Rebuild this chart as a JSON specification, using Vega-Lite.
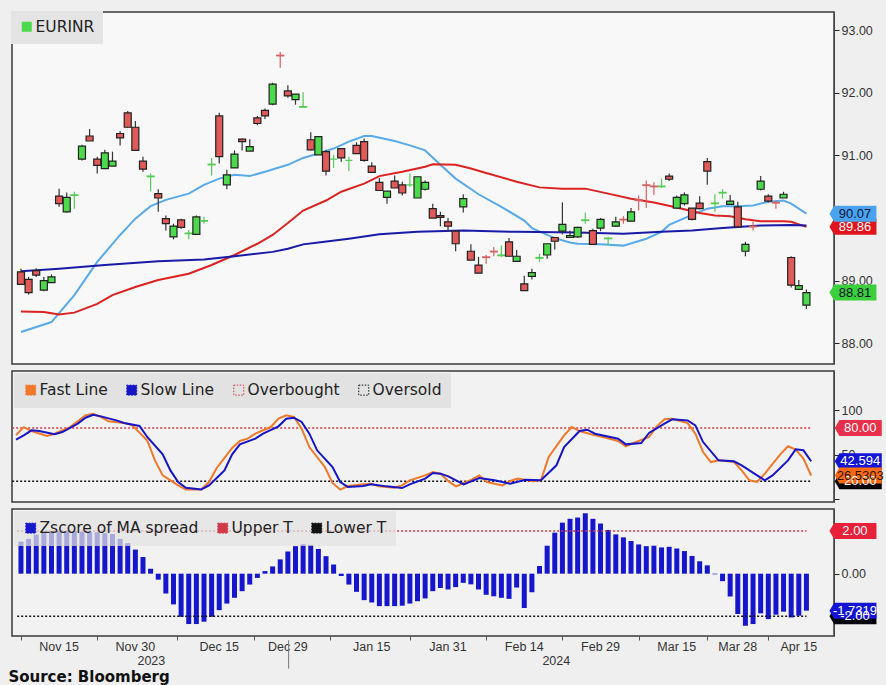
{
  "$schema": "https://vega.github.io/schema/vega-lite/v6.json",
  "background": "#efefef",
  "padding": {"left": 8, "top": 10, "right": 6, "bottom": 0},
  "bounds": "flush",
  "title": {"text": "Source: Bloomberg", "orient": "bottom", "anchor": "start", "font": "DejaVu Sans", "fontSize": 15, "fontWeight": "bold", "color": "#111111", "offset": 0},
  "resolve": {"scale": {"color": "independent", "fill": "independent", "stroke": "independent", "x": "independent", "y": "independent"}, "legend": {"color": "independent"}},
  "config": {
    "view": {"stroke": "#3a3a3a", "strokeWidth": 1.5},
    "concat": {"spacing": 7},
    "axis": {"labelFont": "Liberation Sans Narrow, Liberation Sans", "labelFontSize": 12.5, "labelColor": "#333333", "domainColor": "#444444", "tickColor": "#222222", "grid": false, "title": null}
  },
  "datasets": {
    "candles": [
      {"i":0,"d":"2023-11-07","o":89.14,"h":89.19,"l":88.93,"c":88.94},
      {"i":1,"d":"2023-11-08","o":89.02,"h":89.06,"l":88.78,"c":88.81},
      {"i":2,"d":"2023-11-09","o":89.16,"h":89.20,"l":89.06,"c":89.09},
      {"i":3,"d":"2023-11-10","o":88.85,"h":89.06,"l":88.83,"c":89.00},
      {"i":4,"d":"2023-11-13","o":88.97,"h":89.10,"l":88.97,"c":89.06},
      {"i":5,"d":"2023-11-15","o":90.35,"h":90.47,"l":90.18,"c":90.23},
      {"i":6,"d":"2023-11-16","o":90.10,"h":90.41,"l":90.09,"c":90.33},
      {"i":7,"d":"2023-11-17","o":90.36,"h":90.42,"l":90.15,"c":90.37},
      {"i":8,"d":"2023-11-20","o":90.94,"h":91.17,"l":90.92,"c":91.15},
      {"i":9,"d":"2023-11-21","o":91.31,"h":91.42,"l":91.23,"c":91.23},
      {"i":10,"d":"2023-11-22","o":90.94,"h":90.98,"l":90.71,"c":90.84},
      {"i":11,"d":"2023-11-23","o":90.79,"h":91.09,"l":90.79,"c":91.04},
      {"i":12,"d":"2023-11-24","o":90.83,"h":91.06,"l":90.83,"c":90.91},
      {"i":13,"d":"2023-11-28","o":91.35,"h":91.39,"l":91.16,"c":91.28},
      {"i":14,"d":"2023-11-29","o":91.68,"h":91.71,"l":91.44,"c":91.45},
      {"i":15,"d":"2023-11-30","o":91.45,"h":91.55,"l":91.07,"c":91.08},
      {"i":16,"d":"2023-12-01","o":90.91,"h":90.98,"l":90.74,"c":90.78},
      {"i":17,"d":"2023-12-04","o":90.66,"h":90.71,"l":90.43,"c":90.67},
      {"i":18,"d":"2023-12-05","o":90.39,"h":90.46,"l":90.10,"c":90.32},
      {"i":19,"d":"2023-12-06","o":89.99,"h":90.04,"l":89.80,"c":89.91},
      {"i":20,"d":"2023-12-07","o":89.70,"h":89.91,"l":89.66,"c":89.87},
      {"i":21,"d":"2023-12-08","o":89.97,"h":89.99,"l":89.83,"c":89.85},
      {"i":22,"d":"2023-12-11","o":89.75,"h":89.81,"l":89.66,"c":89.76},
      {"i":23,"d":"2023-12-12","o":89.74,"h":90.04,"l":89.74,"c":90.02},
      {"i":24,"d":"2023-12-13","o":89.95,"h":90.02,"l":89.91,"c":89.96},
      {"i":25,"d":"2023-12-14","o":90.85,"h":90.96,"l":90.68,"c":90.86},
      {"i":26,"d":"2023-12-15","o":91.63,"h":91.68,"l":90.87,"c":90.98},
      {"i":27,"d":"2023-12-18","o":90.53,"h":90.77,"l":90.46,"c":90.69},
      {"i":28,"d":"2023-12-19","o":90.80,"h":91.08,"l":90.80,"c":91.02},
      {"i":29,"d":"2023-12-20","o":91.26,"h":91.27,"l":91.08,"c":91.22},
      {"i":30,"d":"2023-12-21","o":91.07,"h":91.26,"l":91.07,"c":91.14},
      {"i":31,"d":"2023-12-22","o":91.60,"h":91.63,"l":91.48,"c":91.51},
      {"i":32,"d":"2023-12-26","o":91.72,"h":91.75,"l":91.58,"c":91.63},
      {"i":33,"d":"2023-12-27","o":91.82,"h":92.16,"l":91.80,"c":92.14},
      {"i":34,"d":"2023-12-28","o":92.60,"h":92.65,"l":92.40,"c":92.59},
      {"i":35,"d":"2023-12-29","o":92.03,"h":92.12,"l":91.92,"c":91.95},
      {"i":36,"d":"2024-01-01","o":91.89,"h":91.98,"l":91.81,"c":91.98},
      {"i":37,"d":"2024-01-02","o":91.77,"h":92.01,"l":91.77,"c":91.78},
      {"i":38,"d":"2024-01-03","o":91.25,"h":91.37,"l":91.08,"c":91.09},
      {"i":39,"d":"2024-01-04","o":91.01,"h":91.30,"l":91.01,"c":91.30},
      {"i":40,"d":"2024-01-05","o":91.06,"h":91.09,"l":90.68,"c":90.75},
      {"i":41,"d":"2024-01-08","o":90.94,"h":91.01,"l":90.80,"c":90.94},
      {"i":42,"d":"2024-01-09","o":91.11,"h":91.12,"l":90.90,"c":90.96},
      {"i":43,"d":"2024-01-10","o":90.92,"h":90.98,"l":90.75,"c":90.92},
      {"i":44,"d":"2024-01-11","o":91.16,"h":91.21,"l":91.03,"c":91.03},
      {"i":45,"d":"2024-01-12","o":91.22,"h":91.27,"l":90.90,"c":90.92},
      {"i":46,"d":"2024-01-15","o":90.83,"h":90.89,"l":90.73,"c":90.73},
      {"i":47,"d":"2024-01-16","o":90.57,"h":90.64,"l":90.44,"c":90.44},
      {"i":48,"d":"2024-01-17","o":90.33,"h":90.43,"l":90.23,"c":90.43},
      {"i":49,"d":"2024-01-18","o":90.59,"h":90.68,"l":90.48,"c":90.48},
      {"i":50,"d":"2024-01-19","o":90.53,"h":90.58,"l":90.36,"c":90.40},
      {"i":51,"d":"2024-01-23","o":90.53,"h":90.71,"l":90.50,"c":90.53},
      {"i":52,"d":"2024-01-24","o":90.32,"h":90.66,"l":90.32,"c":90.66},
      {"i":53,"d":"2024-01-25","o":90.46,"h":90.60,"l":90.44,"c":90.57},
      {"i":54,"d":"2024-01-29","o":90.15,"h":90.23,"l":90.00,"c":90.00},
      {"i":55,"d":"2024-01-30","o":90.04,"h":90.10,"l":89.87,"c":90.01},
      {"i":56,"d":"2024-01-31","o":89.94,"h":90.00,"l":89.78,"c":89.87},
      {"i":57,"d":"2024-02-01","o":89.79,"h":89.79,"l":89.47,"c":89.59},
      {"i":58,"d":"2024-02-02","o":90.18,"h":90.38,"l":90.09,"c":90.31},
      {"i":59,"d":"2024-02-05","o":89.47,"h":89.58,"l":89.33,"c":89.33},
      {"i":60,"d":"2024-02-06","o":89.25,"h":89.38,"l":89.12,"c":89.12},
      {"i":61,"d":"2024-02-07","o":89.38,"h":89.41,"l":89.27,"c":89.37},
      {"i":62,"d":"2024-02-08","o":89.47,"h":89.54,"l":89.39,"c":89.46},
      {"i":63,"d":"2024-02-09","o":89.40,"h":89.56,"l":89.38,"c":89.41},
      {"i":64,"d":"2024-02-12","o":89.62,"h":89.68,"l":89.39,"c":89.39},
      {"i":65,"d":"2024-02-13","o":89.31,"h":89.49,"l":89.31,"c":89.39},
      {"i":66,"d":"2024-02-14","o":88.95,"h":89.08,"l":88.84,"c":88.84},
      {"i":67,"d":"2024-02-15","o":89.07,"h":89.19,"l":89.02,"c":89.13},
      {"i":68,"d":"2024-02-16","o":89.36,"h":89.43,"l":89.30,"c":89.37},
      {"i":69,"d":"2024-02-20","o":89.41,"h":89.59,"l":89.35,"c":89.59},
      {"i":70,"d":"2024-02-21","o":89.69,"h":89.69,"l":89.50,"c":89.63},
      {"i":71,"d":"2024-02-22","o":89.79,"h":90.25,"l":89.74,"c":89.90},
      {"i":72,"d":"2024-02-23","o":89.69,"h":89.80,"l":89.69,"c":89.72},
      {"i":73,"d":"2024-02-26","o":89.70,"h":89.86,"l":89.68,"c":89.85},
      {"i":74,"d":"2024-02-27","o":89.96,"h":90.09,"l":89.91,"c":89.97},
      {"i":75,"d":"2024-02-28","o":89.80,"h":89.83,"l":89.58,"c":89.58},
      {"i":76,"d":"2024-02-29","o":89.84,"h":90.00,"l":89.79,"c":89.98},
      {"i":77,"d":"2024-03-01","o":89.67,"h":89.70,"l":89.57,"c":89.68},
      {"i":78,"d":"2024-03-04","o":89.87,"h":90.02,"l":89.86,"c":89.94},
      {"i":79,"d":"2024-03-05","o":89.98,"h":90.03,"l":89.91,"c":89.97},
      {"i":80,"d":"2024-03-06","o":89.95,"h":90.16,"l":89.94,"c":90.10},
      {"i":81,"d":"2024-03-07","o":90.29,"h":90.36,"l":90.12,"c":90.28},
      {"i":82,"d":"2024-03-11","o":90.53,"h":90.60,"l":90.16,"c":90.52},
      {"i":83,"d":"2024-03-12","o":90.51,"h":90.57,"l":90.37,"c":90.50},
      {"i":84,"d":"2024-03-13","o":90.50,"h":90.63,"l":90.48,"c":90.51},
      {"i":85,"d":"2024-03-14","o":90.67,"h":90.71,"l":90.59,"c":90.62},
      {"i":86,"d":"2024-03-15","o":90.16,"h":90.36,"l":90.16,"c":90.33},
      {"i":87,"d":"2024-03-18","o":90.23,"h":90.41,"l":90.20,"c":90.37},
      {"i":88,"d":"2024-03-19","o":90.16,"h":90.16,"l":89.96,"c":89.98},
      {"i":89,"d":"2024-03-20","o":90.24,"h":90.35,"l":90.14,"c":90.15},
      {"i":90,"d":"2024-03-21","o":90.90,"h":90.96,"l":90.53,"c":90.75},
      {"i":91,"d":"2024-03-22","o":90.23,"h":90.38,"l":90.10,"c":90.24},
      {"i":92,"d":"2024-03-26","o":90.40,"h":90.46,"l":90.31,"c":90.41},
      {"i":93,"d":"2024-03-27","o":90.22,"h":90.37,"l":90.22,"c":90.27},
      {"i":94,"d":"2024-03-28","o":90.18,"h":90.26,"l":89.86,"c":89.86},
      {"i":95,"d":"2024-04-02","o":89.47,"h":89.62,"l":89.39,"c":89.58},
      {"i":96,"d":"2024-04-03","o":89.87,"h":89.94,"l":89.80,"c":89.86},
      {"i":97,"d":"2024-04-04","o":90.46,"h":90.67,"l":90.44,"c":90.59},
      {"i":98,"d":"2024-04-05","o":90.35,"h":90.38,"l":90.25,"c":90.27},
      {"i":99,"d":"2024-04-08","o":90.25,"h":90.28,"l":90.15,"c":90.24},
      {"i":100,"d":"2024-04-10","o":90.32,"h":90.42,"l":90.32,"c":90.38},
      {"i":101,"d":"2024-04-12","o":89.37,"h":89.39,"l":88.89,"c":88.93},
      {"i":102,"d":"2024-04-15","o":88.86,"h":89.01,"l":88.86,"c":88.92},
      {"i":103,"d":"2024-04-16","o":88.61,"h":88.86,"l":88.55,"c":88.81}
    ],
    "ma": [
      {"i":0,"s":"fast","v":88.18},{"i":4,"s":"fast","v":88.34},{"i":7,"s":"fast","v":88.77},{"i":10,"s":"fast","v":89.30},{"i":13,"s":"fast","v":89.73},{"i":15,"s":"fast","v":89.99},{"i":17,"s":"fast","v":90.19},{"i":19,"s":"fast","v":90.29},{"i":22,"s":"fast","v":90.39},{"i":24,"s":"fast","v":90.53},{"i":26,"s":"fast","v":90.63},{"i":28,"s":"fast","v":90.69},{"i":30,"s":"fast","v":90.67},{"i":32,"s":"fast","v":90.74},{"i":35,"s":"fast","v":90.85},{"i":37,"s":"fast","v":90.96},{"i":39,"s":"fast","v":91.03},{"i":41,"s":"fast","v":91.11},{"i":43,"s":"fast","v":91.22},{"i":45,"s":"fast","v":91.31},{"i":46,"s":"fast","v":91.31},{"i":49,"s":"fast","v":91.23},{"i":51,"s":"fast","v":91.16},{"i":53,"s":"fast","v":91.08},{"i":55,"s":"fast","v":90.85},{"i":57,"s":"fast","v":90.63},{"i":60,"s":"fast","v":90.38},{"i":63,"s":"fast","v":90.18},{"i":66,"s":"fast","v":89.96},{"i":67,"s":"fast","v":89.84},{"i":70,"s":"fast","v":89.68},{"i":72,"s":"fast","v":89.61},{"i":73,"s":"fast","v":89.59},{"i":76,"s":"fast","v":89.58},{"i":79,"s":"fast","v":89.56},{"i":82,"s":"fast","v":89.67},{"i":84,"s":"fast","v":89.78},{"i":85,"s":"fast","v":89.89},{"i":88,"s":"fast","v":90.05},{"i":90,"s":"fast","v":90.15},{"i":92,"s":"fast","v":90.19},{"i":94,"s":"fast","v":90.19},{"i":96,"s":"fast","v":90.20},{"i":98,"s":"fast","v":90.26},{"i":100,"s":"fast","v":90.28},{"i":101,"s":"fast","v":90.23},{"i":103,"s":"fast","v":90.07},
      {"i":0,"s":"mid","v":88.51},{"i":3,"s":"mid","v":88.50},{"i":5,"s":"mid","v":88.46},{"i":7,"s":"mid","v":88.49},{"i":10,"s":"mid","v":88.63},{"i":12,"s":"mid","v":88.77},{"i":15,"s":"mid","v":88.90},{"i":18,"s":"mid","v":89.01},{"i":22,"s":"mid","v":89.11},{"i":25,"s":"mid","v":89.25},{"i":28,"s":"mid","v":89.41},{"i":31,"s":"mid","v":89.59},{"i":33,"s":"mid","v":89.73},{"i":35,"s":"mid","v":89.92},{"i":37,"s":"mid","v":90.12},{"i":40,"s":"mid","v":90.28},{"i":42,"s":"mid","v":90.42},{"i":45,"s":"mid","v":90.55},{"i":47,"s":"mid","v":90.67},{"i":50,"s":"mid","v":90.74},{"i":53,"s":"mid","v":90.82},{"i":54,"s":"mid","v":90.86},{"i":57,"s":"mid","v":90.85},{"i":59,"s":"mid","v":90.79},{"i":61,"s":"mid","v":90.72},{"i":65,"s":"mid","v":90.58},{"i":68,"s":"mid","v":90.49},{"i":71,"s":"mid","v":90.47},{"i":74,"s":"mid","v":90.47},{"i":77,"s":"mid","v":90.39},{"i":80,"s":"mid","v":90.31},{"i":83,"s":"mid","v":90.25},{"i":86,"s":"mid","v":90.17},{"i":89,"s":"mid","v":90.08},{"i":91,"s":"mid","v":90.04},{"i":93,"s":"mid","v":90.03},{"i":95,"s":"mid","v":89.98},{"i":97,"s":"mid","v":89.95},{"i":100,"s":"mid","v":89.95},{"i":101,"s":"mid","v":89.94},{"i":103,"s":"mid","v":89.86},
      {"i":0,"s":"slow","v":89.15},{"i":5,"s":"slow","v":89.19},{"i":11,"s":"slow","v":89.25},{"i":18,"s":"slow","v":89.31},{"i":24,"s":"slow","v":89.34},{"i":28,"s":"slow","v":89.39},{"i":33,"s":"slow","v":89.46},{"i":35,"s":"slow","v":89.51},{"i":37,"s":"slow","v":89.58},{"i":39,"s":"slow","v":89.61},{"i":43,"s":"slow","v":89.67},{"i":47,"s":"slow","v":89.74},{"i":52,"s":"slow","v":89.78},{"i":58,"s":"slow","v":89.80},{"i":65,"s":"slow","v":89.78},{"i":73,"s":"slow","v":89.77},{"i":79,"s":"slow","v":89.75},{"i":84,"s":"slow","v":89.78},{"i":88,"s":"slow","v":89.80},{"i":92,"s":"slow","v":89.84},{"i":97,"s":"slow","v":89.88},{"i":101,"s":"slow","v":89.89},{"i":103,"s":"slow","v":89.88}
    ],
    "stoch": [
      {"i":0,"s":"Fast Line","v":72},{"i":1,"s":"Fast Line","v":81},{"i":2,"s":"Fast Line","v":76.6},{"i":4,"s":"Fast Line","v":71},{"i":5,"s":"Fast Line","v":73.5},{"i":7,"s":"Fast Line","v":81},{"i":9,"s":"Fast Line","v":94.3},{"i":10,"s":"Fast Line","v":96},{"i":11,"s":"Fast Line","v":92.4},{"i":12,"s":"Fast Line","v":87.5},{"i":14,"s":"Fast Line","v":85.6},{"i":15,"s":"Fast Line","v":83.5},{"i":17,"s":"Fast Line","v":66},{"i":18,"s":"Fast Line","v":43.6},{"i":19,"s":"Fast Line","v":26.7},{"i":21,"s":"Fast Line","v":15.4},{"i":22,"s":"Fast Line","v":10.9},{"i":24,"s":"Fast Line","v":10.9},{"i":25,"s":"Fast Line","v":19.2},{"i":26,"s":"Fast Line","v":35},{"i":28,"s":"Fast Line","v":57.5},{"i":29,"s":"Fast Line","v":65.4},{"i":30,"s":"Fast Line","v":68},{"i":31,"s":"Fast Line","v":73.6},{"i":33,"s":"Fast Line","v":81.1},{"i":34,"s":"Fast Line","v":90.5},{"i":35,"s":"Fast Line","v":94.3},{"i":36,"s":"Fast Line","v":92.4},{"i":37,"s":"Fast Line","v":79.3},{"i":38,"s":"Fast Line","v":58.6},{"i":40,"s":"Fast Line","v":36.1},{"i":41,"s":"Fast Line","v":18.1},{"i":42,"s":"Fast Line","v":10.6},{"i":43,"s":"Fast Line","v":14.7},{"i":45,"s":"Fast Line","v":16.6},{"i":46,"s":"Fast Line","v":17.3},{"i":47,"s":"Fast Line","v":14.3},{"i":49,"s":"Fast Line","v":12.8},{"i":50,"s":"Fast Line","v":15.4},{"i":51,"s":"Fast Line","v":21.1},{"i":53,"s":"Fast Line","v":26.7},{"i":54,"s":"Fast Line","v":30.5},{"i":55,"s":"Fast Line","v":28.6},{"i":56,"s":"Fast Line","v":20},{"i":57,"s":"Fast Line","v":14.3},{"i":59,"s":"Fast Line","v":21.8},{"i":60,"s":"Fast Line","v":26.7},{"i":61,"s":"Fast Line","v":19.2},{"i":63,"s":"Fast Line","v":15.4},{"i":64,"s":"Fast Line","v":20.3},{"i":65,"s":"Fast Line","v":23},{"i":67,"s":"Fast Line","v":20},{"i":68,"s":"Fast Line","v":21.1},{"i":69,"s":"Fast Line","v":47.4},{"i":71,"s":"Fast Line","v":71.7},{"i":72,"s":"Fast Line","v":81.1},{"i":73,"s":"Fast Line","v":76.6},{"i":75,"s":"Fast Line","v":71.7},{"i":76,"s":"Fast Line","v":69.9},{"i":78,"s":"Fast Line","v":65.4},{"i":79,"s":"Fast Line","v":59.4},{"i":80,"s":"Fast Line","v":63.1},{"i":82,"s":"Fast Line","v":69.9},{"i":83,"s":"Fast Line","v":81.9},{"i":84,"s":"Fast Line","v":89.8},{"i":85,"s":"Fast Line","v":90.5},{"i":87,"s":"Fast Line","v":85.6},{"i":88,"s":"Fast Line","v":73.6},{"i":89,"s":"Fast Line","v":53},{"i":90,"s":"Fast Line","v":41.7},{"i":91,"s":"Fast Line","v":43.6},{"i":93,"s":"Fast Line","v":41.7},{"i":94,"s":"Fast Line","v":32.3},{"i":95,"s":"Fast Line","v":21.1},{"i":96,"s":"Fast Line","v":19.2},{"i":97,"s":"Fast Line","v":28.6},{"i":99,"s":"Fast Line","v":50.4},{"i":100,"s":"Fast Line","v":59.4},{"i":101,"s":"Fast Line","v":55.6},{"i":102,"s":"Fast Line","v":45.5},{"i":103,"s":"Fast Line","v":26.53},
      {"i":0,"s":"Slow Line","v":67},{"i":1,"s":"Slow Line","v":71.7},{"i":2,"s":"Slow Line","v":77.4},{"i":3,"s":"Slow Line","v":76.6},{"i":5,"s":"Slow Line","v":72.9},{"i":6,"s":"Slow Line","v":75.5},{"i":8,"s":"Slow Line","v":84.9},{"i":9,"s":"Slow Line","v":91.6},{"i":10,"s":"Slow Line","v":95},{"i":11,"s":"Slow Line","v":93.1},{"i":13,"s":"Slow Line","v":88.6},{"i":14,"s":"Slow Line","v":85.6},{"i":16,"s":"Slow Line","v":82.3},{"i":17,"s":"Slow Line","v":69.9},{"i":19,"s":"Slow Line","v":50.4},{"i":20,"s":"Slow Line","v":32.3},{"i":21,"s":"Slow Line","v":19.2},{"i":22,"s":"Slow Line","v":12.8},{"i":24,"s":"Slow Line","v":10.9},{"i":25,"s":"Slow Line","v":15.4},{"i":27,"s":"Slow Line","v":32.3},{"i":28,"s":"Slow Line","v":50.4},{"i":29,"s":"Slow Line","v":61.6},{"i":31,"s":"Slow Line","v":68},{"i":32,"s":"Slow Line","v":73.6},{"i":34,"s":"Slow Line","v":81.9},{"i":35,"s":"Slow Line","v":90.5},{"i":36,"s":"Slow Line","v":91.6},{"i":37,"s":"Slow Line","v":86.8},{"i":38,"s":"Slow Line","v":73.6},{"i":39,"s":"Slow Line","v":54.9},{"i":41,"s":"Slow Line","v":36.1},{"i":42,"s":"Slow Line","v":19.2},{"i":43,"s":"Slow Line","v":13.6},{"i":45,"s":"Slow Line","v":14.7},{"i":46,"s":"Slow Line","v":16.6},{"i":48,"s":"Slow Line","v":14.3},{"i":50,"s":"Slow Line","v":12.4},{"i":51,"s":"Slow Line","v":16.6},{"i":53,"s":"Slow Line","v":23},{"i":54,"s":"Slow Line","v":29.3},{"i":55,"s":"Slow Line","v":28.6},{"i":56,"s":"Slow Line","v":25.6},{"i":58,"s":"Slow Line","v":16.6},{"i":60,"s":"Slow Line","v":23.7},{"i":62,"s":"Slow Line","v":21.1},{"i":64,"s":"Slow Line","v":17.3},{"i":66,"s":"Slow Line","v":21.8},{"i":68,"s":"Slow Line","v":21.1},{"i":70,"s":"Slow Line","v":38},{"i":71,"s":"Slow Line","v":58.6},{"i":73,"s":"Slow Line","v":76.6},{"i":74,"s":"Slow Line","v":78.1},{"i":75,"s":"Slow Line","v":73.6},{"i":78,"s":"Slow Line","v":68},{"i":79,"s":"Slow Line","v":61.6},{"i":81,"s":"Slow Line","v":63.1},{"i":82,"s":"Slow Line","v":74.4},{"i":84,"s":"Slow Line","v":84.9},{"i":85,"s":"Slow Line","v":89.8},{"i":87,"s":"Slow Line","v":88.6},{"i":88,"s":"Slow Line","v":83},{"i":89,"s":"Slow Line","v":64.2},{"i":91,"s":"Slow Line","v":43.6},{"i":93,"s":"Slow Line","v":42.5},{"i":94,"s":"Slow Line","v":38},{"i":96,"s":"Slow Line","v":26.7},{"i":97,"s":"Slow Line","v":21.1},{"i":98,"s":"Slow Line","v":26.7},{"i":100,"s":"Slow Line","v":43.6},{"i":101,"s":"Slow Line","v":56},{"i":102,"s":"Slow Line","v":54.9},{"i":103,"s":"Slow Line","v":42.594}
    ],
    "stochLevels": [
      {"i":-0.5,"s":"Overbought","v":80},{"i":103,"s":"Overbought","v":80},
      {"i":-0.5,"s":"Oversold","v":20},{"i":103,"s":"Oversold","v":20}
    ],
    "z": [
      {"i":0,"v":1.5},{"i":1,"v":1.63},{"i":2,"v":1.83},{"i":3,"v":1.9},{"i":4,"v":1.97},{"i":5,"v":2.0},{"i":6,"v":2.0},{"i":7,"v":2.0},{"i":8,"v":1.97},{"i":9,"v":1.94},{"i":10,"v":1.94},{"i":11,"v":1.9},{"i":12,"v":1.86},{"i":13,"v":1.63},{"i":14,"v":1.43},{"i":15,"v":1.13},{"i":16,"v":0.78},{"i":17,"v":0.23},
      {"i":18,"v":-0.28},{"i":19,"v":-0.93},{"i":20,"v":-1.44},{"i":21,"v":-2.02},{"i":22,"v":-2.36},{"i":23,"v":-2.36},{"i":24,"v":-2.25},{"i":25,"v":-2.02},{"i":26,"v":-1.71},{"i":27,"v":-1.4},{"i":28,"v":-1.13},{"i":29,"v":-0.82},{"i":30,"v":-0.51},{"i":31,"v":-0.2},
      {"i":32,"v":0.12},{"i":33,"v":0.34},{"i":34,"v":0.67},{"i":35,"v":1.04},{"i":36,"v":1.29},{"i":37,"v":1.38},{"i":38,"v":1.35},{"i":39,"v":1.16},{"i":40,"v":0.82},{"i":41,"v":0.43},
      {"i":42,"v":-0.11},{"i":43,"v":-0.51},{"i":44,"v":-0.85},{"i":45,"v":-1.24},{"i":46,"v":-1.35},{"i":47,"v":-1.52},{"i":48,"v":-1.52},{"i":49,"v":-1.52},{"i":50,"v":-1.5},{"i":51,"v":-1.4},{"i":52,"v":-1.29},{"i":53,"v":-1.16},{"i":54,"v":-0.82},{"i":55,"v":-0.67},
      {"i":56,"v":-0.74},{"i":57,"v":-0.63},{"i":58,"v":-0.43},{"i":59,"v":-0.5},{"i":60,"v":-0.74},{"i":61,"v":-0.99},{"i":62,"v":-1.06},{"i":63,"v":-1.13},{"i":64,"v":-1.18},{"i":65,"v":-0.65},{"i":66,"v":-1.61},{"i":67,"v":-0.87},
      {"i":68,"v":0.36},{"i":69,"v":1.31},{"i":70,"v":1.92},{"i":71,"v":2.39},{"i":72,"v":2.57},{"i":73,"v":2.63},{"i":74,"v":2.83},{"i":75,"v":2.57},{"i":76,"v":2.35},{"i":77,"v":2.05},{"i":78,"v":1.84},{"i":79,"v":1.7},{"i":80,"v":1.53},{"i":81,"v":1.37},{"i":82,"v":1.29},{"i":83,"v":1.31},{"i":84,"v":1.23},{"i":85,"v":1.26},{"i":86,"v":1.18},{"i":87,"v":1.06},{"i":88,"v":0.83},{"i":89,"v":0.58},{"i":90,"v":0.39},
      {"i":91,"v":-0.03},{"i":92,"v":-0.35},{"i":93,"v":-1.07},{"i":94,"v":-1.89},{"i":95,"v":-2.44},{"i":96,"v":-2.36},{"i":97,"v":-1.86},{"i":98,"v":-2.13},{"i":99,"v":-1.92},{"i":100,"v":-1.78},{"i":101,"v":-2.05},{"i":102,"v":-1.97},{"i":103,"v":-1.7319}
    ],
    "zLevels": [
      {"i":-0.5,"s":"Upper T","v":2},{"i":103,"s":"Upper T","v":2},
      {"i":-0.5,"s":"Lower T","v":-2},{"i":103,"s":"Lower T","v":-2}
    ],
    "xlabels": [
      {"i":5,"lab":"Nov 15"},{"i":15,"lab":"Nov 30"},{"i":26,"lab":"Dec 15"},{"i":35,"lab":"Dec 29"},{"i":46,"lab":"Jan 15"},{"i":56,"lab":"Jan 31"},{"i":66,"lab":"Feb 14"},{"i":76,"lab":"Feb 29"},{"i":86,"lab":"Mar 15"},{"i":94,"lab":"Mar 28"},{"i":102,"lab":"Apr 15"}
    ],
    "years": [
      {"i":17.1,"yr":"2023"},
      {"i":70.2,"yr":"2024"}
    ],
    "tagsTop": [
      {"k":"mid","v":89.86,"label":"89.86"},
      {"k":"fast","v":90.07,"label":"90.07"},
      {"k":"close","v":88.81,"label":"88.81"}
    ],
    "tagsMid": [
      {"k":"os","v":20,"label":"20.00"},
      {"k":"ob","v":80,"label":"80.00"},
      {"k":"slow","v":42.594,"label":"42.594"},
      {"k":"fastl","v":26.5303,"label":"26.5303"}
    ],
    "tagsBot": [
      {"k":"lower","v":-2,"label":"-2.00"},
      {"k":"upper","v":2,"label":"2.00"},
      {"k":"z","v":-1.7319,"label":"-1.7319"}
    ]
  },
  "vconcat": [
    {
      "width": 822,
      "height": 352,
      "view": {"fill": "#f8f8f8"},
      "layer": [
        {
          "data": {"name": "ma"},
          "mark": {"type": "line", "strokeWidth": 2},
          "encoding": {
            "x": {"field": "i", "type": "quantitative", "scale": {"domain": [-0.52, 105.96], "nice": false, "zero": false}, "axis": null},
            "y": {"field": "v", "type": "quantitative", "scale": {"domain": [87.67, 93.29], "nice": false, "zero": false},
                  "axis": {"orient": "right", "values": [88, 88.5, 89, 89.5, 90, 90.5, 91, 91.5, 92, 92.5, 93], "labelExpr": "datum.value % 1 == 0 ? format(datum.value, '.2f') : ''", "tickSize": 5, "labelPadding": 2}},
            "stroke": {"field": "s", "type": "nominal", "scale": {"domain": ["fast", "mid", "slow"], "range": ["#58aaea", "#dd2222", "#1a1aa8"]}, "legend": null}
          }
        },
        {
          "data": {"name": "candles"},
          "mark": {"type": "rule", "strokeWidth": 1.2},
          "encoding": {
            "x": {"field": "i", "type": "quantitative"},
            "y": {"field": "l", "type": "quantitative"},
            "y2": {"field": "h"},
            "stroke": {"condition": [
              {"test": "abs(datum.c - datum.o) < 0.015 && datum.c >= datum.o", "value": "#55cc55"},
              {"test": "abs(datum.c - datum.o) < 0.015", "value": "#d96060"}
            ], "value": "#333333"}
          }
        },
        {
          "data": {"name": "candles"},
          "mark": {"type": "bar", "size": 7, "strokeWidth": 1.2},
          "encoding": {
            "x": {"field": "i", "type": "quantitative"},
            "y": {"field": "o", "type": "quantitative"},
            "y2": {"field": "c"},
            "color": {"datum": "EURINR", "type": "nominal",
                      "condition": {"test": "datum.c < datum.o", "value": "#e05a5a"},
                      "scale": {"domain": ["EURINR"], "range": ["#4cd94c"]},
                      "legend": {"orient": "top-left", "title": null, "offset": -1, "padding": 8, "fillColor": "#e4e4e4", "labelFont": "DejaVu Sans", "labelFontSize": 15.5, "labelColor": "#222222", "labelOffset": 1, "symbolType": "square", "symbolSize": 100, "symbolStrokeWidth": 0}},
            "stroke": {"condition": [
              {"test": "abs(datum.c - datum.o) < 0.015 && datum.c >= datum.o", "value": "#55cc55"},
              {"test": "abs(datum.c - datum.o) < 0.015", "value": "#d96060"}
            ], "value": "#222222"}
          }
        },
        {
          "data": {"name": "tagsTop"},
          "mark": {"type": "point", "filled": true, "opacity": 1, "size": 2209, "shape": "M -1 0 L -0.8 -0.34 L 1 -0.34 L 1 0.34 L -0.8 0.34 Z"},
          "encoding": {
            "x": {"datum": 109.1, "type": "quantitative"},
            "y": {"field": "v", "type": "quantitative"},
            "fill": {"field": "k", "type": "nominal", "scale": {"domain": ["fast", "mid", "close"], "range": ["#4aa3f0", "#e0141c", "#3ccf3c"]}, "legend": null}
          }
        },
        {
          "data": {"name": "tagsTop"},
          "mark": {"type": "text", "font": "Liberation Sans Narrow, Liberation Sans", "fontSize": 13, "align": "center", "baseline": "middle", "dx": 2},
          "encoding": {
            "x": {"datum": 109.1, "type": "quantitative"},
            "y": {"field": "v", "type": "quantitative"},
            "text": {"field": "label"},
            "color": {"condition": {"test": "datum.k == 'mid'", "value": "#ffffff"}, "value": "#111133"}
          }
        }
      ]
    },
    {
      "width": 822,
      "height": 131,
      "view": {"fill": "#f2f2f2"},
      "layer": [
        {
          "data": {"name": "stochLevels"},
          "mark": {"type": "line", "strokeWidth": 1.5, "strokeDash": [2, 2]},
          "encoding": {
            "x": {"field": "i", "type": "quantitative", "scale": {"domain": [-0.52, 105.96], "nice": false, "zero": false}, "axis": null},
            "y": {"field": "v", "type": "quantitative", "scale": {"domain": [-3.3, 144.2], "nice": false, "zero": false},
                  "axis": {"orient": "right", "values": [0, 25, 50, 75, 100, 125], "labelExpr": "datum.value == 50 || datum.value == 100 ? datum.value : ''", "tickSize": 5, "labelPadding": 2}},
            "color": {"field": "s", "type": "nominal"}
          }
        },
        {
          "data": {"name": "stoch"},
          "mark": {"type": "line", "strokeWidth": 2},
          "encoding": {
            "x": {"field": "i", "type": "quantitative"},
            "y": {"field": "v", "type": "quantitative"},
            "color": {"field": "s", "type": "nominal",
                      "scale": {"domain": ["Fast Line", "Slow Line", "Overbought", "Oversold"], "range": ["#f07828", "#1616c8", "#d23a48", "#111111"]},
                      "legend": {"orient": "top-left", "title": null, "direction": "horizontal", "offset": 2, "padding": 9, "fillColor": "#e2e2e2", "labelFont": "DejaVu Sans", "labelFontSize": 15.5, "labelColor": "#222222", "labelOffset": 1, "columnPadding": 16, "symbolType": "square", "symbolSize": 100,
                                 "encode": {"symbols": {"update": {
                                   "fill": {"signal": "datum.label == 'Fast Line' ? '#f07828' : datum.label == 'Slow Line' ? '#1616c8' : 'transparent'"},
                                   "stroke": {"signal": "datum.label == 'Overbought' ? '#e07a80' : datum.label == 'Oversold' ? '#444444' : 'transparent'"},
                                   "strokeDash": {"value": [1.5, 1.5]},
                                   "strokeWidth": {"value": 1}
                                 }}}}}
          }
        },
        {
          "data": {"name": "tagsMid"},
          "mark": {"type": "point", "filled": true, "opacity": 1, "size": 2209, "shape": "M -1 0 L -0.8 -0.34 L 1 -0.34 L 1 0.34 L -0.8 0.34 Z"},
          "encoding": {
            "x": {"datum": 109.1, "type": "quantitative"},
            "y": {"field": "v", "type": "quantitative"},
            "fill": {"field": "k", "type": "nominal", "scale": {"domain": ["os", "ob", "slow", "fastl"], "range": ["#000000", "#e8304a", "#1414d4", "#ff6a10"]}, "legend": null}
          }
        },
        {
          "data": {"name": "tagsMid"},
          "mark": {"type": "text", "font": "Liberation Sans Narrow, Liberation Sans", "fontSize": 13, "align": "center", "baseline": "middle", "dx": 2},
          "encoding": {
            "x": {"datum": 109.1, "type": "quantitative"},
            "y": {"field": "v", "type": "quantitative"},
            "text": {"field": "label"},
            "color": {"condition": {"test": "datum.k == 'fastl'", "value": "#2a1000"}, "value": "#ffffff"}
          }
        }
      ]
    },
    {
      "width": 822,
      "height": 127,
      "view": {"fill": "#f2f2f2"},
      "layer": [
        {
          "data": {"name": "z"},
          "mark": {"type": "bar", "size": 5},
          "encoding": {
            "x": {"field": "i", "type": "quantitative", "scale": {"domain": [-0.52, 105.96], "nice": false, "zero": false},
                  "axis": {"orient": "bottom", "values": [0, 10, 20.5, 30.5, 40.5, 51, 61, 71, 81, 90, 98], "labels": false, "domain": false, "tickSize": 4, "tickColor": "#555555"}},
            "y": {"field": "v", "type": "quantitative", "scale": {"domain": [-2.92, 3.03], "nice": false, "zero": false},
                  "axis": {"orient": "right", "values": [-2, -1, 0, 1, 2, 3], "labelExpr": "datum.value % 2 == 0 ? format(datum.value, '.2f') : ''", "tickSize": 5, "labelPadding": 2}},
            "y2": {"datum": 0},
            "color": {"datum": "Zscore of MA spread", "type": "nominal"}
          }
        },
        {
          "data": {"name": "zLevels"},
          "mark": {"type": "line", "strokeWidth": 1.5, "strokeDash": [2, 2]},
          "encoding": {
            "x": {"field": "i", "type": "quantitative"},
            "y": {"field": "v", "type": "quantitative"},
            "color": {"field": "s", "type": "nominal",
                      "scale": {"domain": ["Zscore of MA spread", "Upper T", "Lower T"], "range": ["#1616cc", "#d23a48", "#111111"]},
                      "legend": {"orient": "top-left", "title": null, "direction": "horizontal", "offset": 2, "padding": 9, "fillColor": "rgba(226,226,226,0.72)", "labelFont": "DejaVu Sans", "labelFontSize": 15.5, "labelColor": "#222222", "labelOffset": 1, "columnPadding": 16, "symbolType": "square", "symbolSize": 100,
                                 "encode": {"symbols": {"update": {
                                   "fill": {"signal": "datum.label == 'Zscore of MA spread' ? '#1616cc' : 'transparent'"},
                                   "stroke": {"signal": "datum.label == 'Upper T' ? '#e07a80' : datum.label == 'Lower T' ? '#444444' : 'transparent'"},
                                   "strokeDash": {"value": [1.5, 1.5]},
                                   "strokeWidth": {"value": 1}
                                 }}}}}
          }
        },
        {
          "data": {"name": "xlabels"},
          "mark": {"type": "text", "font": "Liberation Sans Narrow, Liberation Sans", "fontSize": 12.5, "color": "#333333", "align": "center", "baseline": "middle"},
          "encoding": {
            "x": {"field": "i", "type": "quantitative"},
            "y": {"datum": -3.42, "type": "quantitative"},
            "text": {"field": "lab"}
          }
        },
        {
          "data": {"name": "years"},
          "mark": {"type": "text", "font": "Liberation Sans Narrow, Liberation Sans", "fontSize": 12.5, "color": "#333333", "align": "center", "baseline": "middle"},
          "encoding": {
            "x": {"field": "i", "type": "quantitative"},
            "y": {"datum": -4.08, "type": "quantitative"},
            "text": {"field": "yr"}
          }
        },
        {
          "data": {"name": "years"},
          "transform": [{"filter": "datum.yr == '2023'"}],
          "mark": {"type": "rule", "color": "#777777", "strokeWidth": 1},
          "encoding": {
            "x": {"datum": 35.1, "type": "quantitative"},
            "y": {"datum": -3.12, "type": "quantitative"},
            "y2": {"datum": -4.45}
          }
        },
        {
          "data": {"name": "tagsBot"},
          "mark": {"type": "point", "filled": true, "opacity": 1, "size": 2209, "shape": "M -1 0 L -0.8 -0.34 L 1 -0.34 L 1 0.34 L -0.8 0.34 Z"},
          "encoding": {
            "x": {"datum": 109.1, "type": "quantitative"},
            "y": {"field": "v", "type": "quantitative"},
            "fill": {"field": "k", "type": "nominal", "scale": {"domain": ["lower", "upper", "z"], "range": ["#000000", "#e8203a", "#1414d4"]}, "legend": null}
          }
        },
        {
          "data": {"name": "tagsBot"},
          "mark": {"type": "text", "font": "Liberation Sans Narrow, Liberation Sans", "fontSize": 13, "align": "center", "baseline": "middle", "dx": 2},
          "encoding": {
            "x": {"datum": 109.1, "type": "quantitative"},
            "y": {"field": "v", "type": "quantitative"},
            "text": {"field": "label"},
            "color": {"value": "#ffffff"}
          }
        }
      ]
    }
  ]
}
